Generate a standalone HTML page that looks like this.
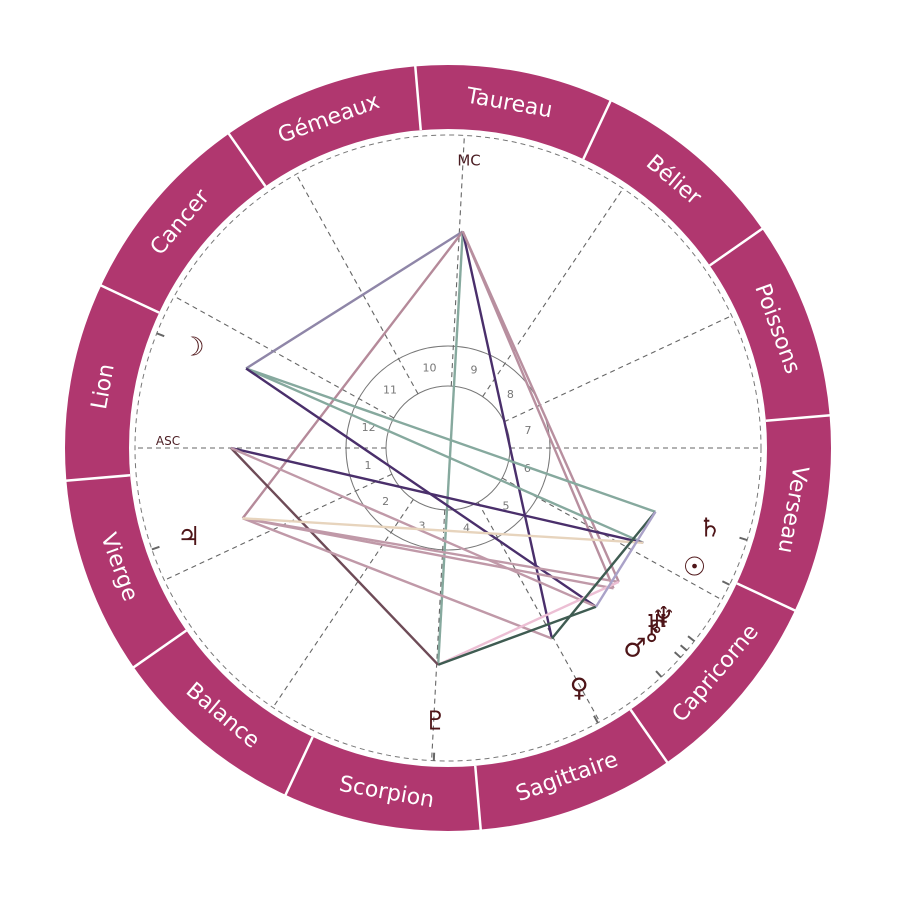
<!DOCTYPE html>
<html><head><meta charset="utf-8"><style>
html,body{margin:0;padding:0;background:#fff;}
svg{display:block;}
</style></head><body>
<svg id="chart" width="897" height="897" viewBox="0 0 897 897" xmlns="http://www.w3.org/2000/svg"></svg>
<script>
const signNames = ["Bélier","Taureau","Gémeaux","Cancer","Lion","Vierge","Balance","Scorpion","Sagittaire","Capricorne","Verseau","Poissons"];
const signStart = 34.9;
const houseCusps = [180,205,236,267,299,331,0,25,56,87,119,151];
const houseLabels = ["1","2","3","4","5","6","7","8","9","10","11","12"];
const bodyNames = ["MC","Lune","ASC","Jupiter","Pluton","Venus","Mars","Neptune","Uranus","Soleil","Saturne","Chiron"];
const bodyAngles = [86.1,158.5,180,198.9,-92.6,-61.4,-47,-38.1,-40.3,-25.9,-17.1,-42];
const bodyGlyphs = ["","☽","","♃","♇","♀","♂","♆","♅","☉","♄","⚷"];
const aspectFrom = [0,0,0,0,0,0,1,1,1,2,2,2,3,3,3,3,4,4,5,6];
const aspectTo   = [1,3,4,5,7,8,10,9,6,9,4,6,7,8,5,9,7,6,10,10];
const aspectColors = ["#8f86a8","#b58a9a","#86a99e","#4a2f6b","#b88f9f","#b88f9f","#86a99e","#86a99e","#4a2f6b","#4a2f6b","#6e4b57","#c099a8","#c099a8","#c099a8","#c099a8","#e7d4bd","#ecbfd4","#3f5c52","#3f5c52","#aaa2c8"];

const svg = document.getElementById('chart');
const NS = "http://www.w3.org/2000/svg";
const cx = 448, cy = 448;
const R_OUT = 383, R_IN = 319, R_DASH = 313, R_H2 = 102, R_H1 = 62, R_ASP = 217, R_GLYPH = 274;
function pt(a, r){ const t = a*Math.PI/180; return [cx + r*Math.cos(t), cy - r*Math.sin(t)]; }
function mk(tag, attrs){ const e = document.createElementNS(NS, tag); for (const k in attrs) e.setAttribute(k, attrs[k]); svg.appendChild(e); return e; }

const ring = mk('circle',{cx:cx,cy:cy,r:(R_OUT+R_IN)/2,fill:'none',stroke:'#b0376f','stroke-width':R_OUT-R_IN});



signNames.forEach((name,i)=>{
  const b = signStart + 30*i;
  const p1 = pt(b, R_IN), p2 = pt(b, R_OUT+1);
  const ln = mk('line',{x1:p1[0],y1:p1[1],x2:p2[0],y2:p2[1],stroke:'#fff','stroke-width':2.5});
  
  
  let mid = b + 15; if (mid > 180) mid -= 360;
  const p = pt(mid, 350);
  const rot = (mid > -20) ? 90 - mid : -90 - mid;
  const t = mk('text',{x:p[0],y:p[1],fill:'#fff','font-size':22,'font-family':'"DejaVu Sans","Liberation Sans",sans-serif','text-anchor':'middle','dominant-baseline':'central',transform:`rotate(${rot} ${p[0]} ${p[1]})`});
  t.textContent = name;
  
  
});

const dc = mk('circle',{cx:cx,cy:cy,r:R_DASH,fill:'none',stroke:'#777','stroke-width':1,'stroke-dasharray':'5 4'});


[R_H2,R_H1].forEach(r=>{
  const c = mk('circle',{cx:cx,cy:cy,r:r,fill:'none',stroke:'#777','stroke-width':1});
  
  
});

houseCusps.forEach((a,i)=>{
  const p1 = pt(a,R_H1), p2 = pt(a,R_DASH);
  const l = mk('line',{x1:p1[0],y1:p1[1],x2:p2[0],y2:p2[1],stroke:'#666','stroke-width':1.1,'stroke-dasharray':'5 4'});
  
  
  let next = houseCusps[(i+1)%12]; let d = next - a; if (d < 0) d += 360;
  const pm = pt(a + d/2, 82);
  const t = mk('text',{x:pm[0],y:pm[1],fill:'#777','font-size':11,'font-family':'"DejaVu Sans",sans-serif','text-anchor':'middle','dominant-baseline':'central'});
  t.textContent = houseLabels[i];
  
  
});

const mcp = pt(houseCusps[9], 288);
const mc = mk('text',{x:mcp[0]+6,y:mcp[1],fill:'#4a1c22','font-size':15,'font-family':'"DejaVu Sans",sans-serif','text-anchor':'middle','dominant-baseline':'central'});
mc.textContent = 'MC';


const asp0 = pt(houseCusps[0], 280);
const asc = mk('text',{x:asp0[0],y:asp0[1]-7,fill:'#4a1c22','font-size':12,'font-family':'"DejaVu Sans",sans-serif','text-anchor':'middle','dominant-baseline':'central'});
asc.textContent = 'ASC';



aspectFrom.forEach((f,i)=>{
  const p1 = pt(bodyAngles[f],R_ASP), p2 = pt(bodyAngles[aspectTo[i]],R_ASP);
  const l = mk('line',{x1:p1[0],y1:p1[1],x2:p2[0],y2:p2[1],stroke:aspectColors[i],'stroke-width':2.4});
  
  
});

bodyAngles.forEach((a,i)=>{
  if (!bodyGlyphs[i]) return;
  const p1 = pt(a,R_DASH), p2 = pt(a,R_DASH-8);
  const tk = mk('line',{x1:p1[0],y1:p1[1],x2:p2[0],y2:p2[1],stroke:'#666','stroke-width':2});
  
  
  const p = pt(a,R_GLYPH);
  const t = mk('text',{x:p[0],y:p[1],fill:'#4e1518','font-size':26,'font-weight':'bold','font-family':'"DejaVu Sans",sans-serif','text-anchor':'middle','dominant-baseline':'central'});
  t.textContent = bodyGlyphs[i];
  
  
});
</script>
</body></html>
